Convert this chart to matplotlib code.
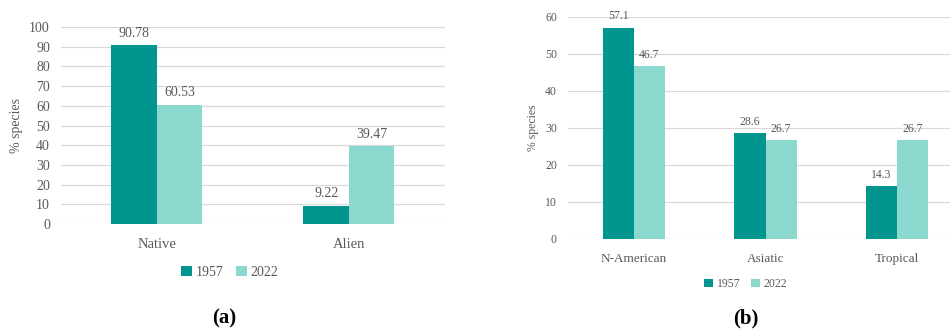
import matplotlib
matplotlib.use("Agg")
import matplotlib.pyplot as plt
import numpy as np

# origin of species, share per survey year
origin_cats = ["Native", "Alien"]
origin_1957 = [90.78, 9.22]
origin_2022 = [60.53, 39.47]

# alien species by region of provenance
region_cats = ["N-American", "Asiatic", "Tropical"]
region_1957 = [57.1, 28.6, 14.3]
region_2022 = [46.7, 26.7, 26.7]

years = ["1957", "2022"]

DARK = "#00958f"
LIGHT = "#8bd8cf"
TEXT = "#595959"
GRID = "#d9d9d9"

plt.rcParams["font.family"] = ["Liberation Serif", "DejaVu Serif"]


def bar_panel(ax, cats, v1, v2, ymax, step, fs, cat_fs, fmt):
    x = np.arange(len(cats))
    w = 0.237
    b1 = ax.bar(x - w / 2, v1, w, color=DARK, label=years[0], zorder=3)
    b2 = ax.bar(x + w / 2, v2, w, color=LIGHT, label=years[1], zorder=3)
    for bars, vals in ((b1, v1), (b2, v2)):
        for rect, v in zip(bars, vals):
            ax.annotate(fmt.format(v), (rect.get_x() + rect.get_width() / 2, v),
                        xytext=(0, 4), textcoords="offset points",
                        ha="center", va="bottom", fontsize=fs, color=TEXT)
    ax.set_xlim(-0.5, len(cats) - 0.5)
    ax.set_ylim(0, ymax)
    ax.set_yticks(np.arange(0, ymax + 1, step))
    ax.set_xticks(x)
    ax.set_xticklabels(cats, fontsize=cat_fs)
    ax.yaxis.grid(True, color=GRID, linewidth=0.9, zorder=0)
    ax.set_axisbelow(True)
    for s in ax.spines.values():
        s.set_visible(False)
    ax.tick_params(length=0, colors=TEXT)
    ax.tick_params(axis="y", labelsize=fs, pad=8)
    ax.tick_params(axis="x", pad=10)
    ax.set_ylabel("% species", color=TEXT, fontsize=fs)
    return b1, b2


fig = plt.figure(figsize=(9.5, 3.31), dpi=100)

ax_a = fig.add_axes([0.0642, 0.3233, 0.4042, 0.595])
ha = bar_panel(ax_a, origin_cats, origin_1957, origin_2022, 100, 10, 10, 10.5, "{:.2f}")
ax_a.yaxis.set_label_coords(-0.099, 0.5)
fig.legend(ha, years, loc="center", bbox_to_anchor=(0.242, 0.178), ncol=2,
           frameon=False, fontsize=10, handlelength=0.75, handleheight=0.75,
           handletextpad=0.3, columnspacing=0.9, labelcolor=TEXT)
fig.text(0.236, 0.022, "(a)", ha="center", fontsize=15, fontweight="bold")

ax_b = fig.add_axes([0.5979, 0.278, 0.4158, 0.6707])
hb = bar_panel(ax_b, region_cats, region_1957, region_2022, 60, 10, 8.5, 9.5, "{:.1f}")
ax_b.yaxis.set_label_coords(-0.073, 0.5)
fig.legend(hb, years, loc="center", bbox_to_anchor=(0.785, 0.142), ncol=2,
           frameon=False, fontsize=8.5, handlelength=0.75, handleheight=0.75,
           handletextpad=0.3, columnspacing=0.9, labelcolor=TEXT)
fig.text(0.785, 0.022, "(b)", ha="center", fontsize=15, fontweight="bold")

fig.savefig("out.png", dpi=100)
